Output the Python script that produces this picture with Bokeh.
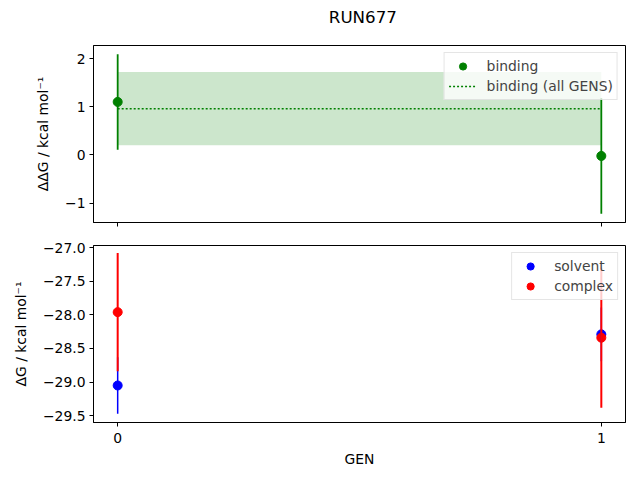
from bokeh.plotting import figure
from bokeh.layouts import column
from bokeh.models import Range1d, FixedTicker, CustomJSTickFormatter, Legend, LegendItem
from bokeh.core.properties import value
from bokeh.embed import file_html
from bokeh.resources import INLINE

# ---- data ----
title_text = "RUN677"
gens = [0, 1]
binding = [1.10, -0.02]
binding_err = [0.99, 1.20]
binding_all_mean = 0.96
binding_all_err = 0.76
solvent = [-29.05, -28.29]
solvent_err = [0.42, 0.40]
complex_ = [-27.96, -28.34]
complex_err = [0.88, 1.04]
x_ticks = [0, 1]
top_y_ticks = [-1, 0, 1, 2]
bottom_y_ticks = [-29.5, -29.0, -28.5, -28.0, -27.5, -27.0]

FONT = "DejaVu Sans"
TICK_PX = "13.9px"

def lo(v, e):
    return [a - b for a, b in zip(v, e)]

def hi(v, e):
    return [a + b for a, b in zip(v, e)]

def style(p, yticks, decimals):
    p.xgrid.visible = False
    p.ygrid.visible = False
    p.outline_line_color = "black"
    p.outline_line_width = 1
    p.background_fill_color = "white"
    p.border_fill_color = "white"
    for ax in (p.xaxis[0], p.yaxis[0]):
        ax.major_tick_in = 0
        ax.major_tick_out = 4
        ax.minor_tick_in = 0
        ax.minor_tick_out = 0
        ax.axis_line_color = "black"
        ax.major_tick_line_color = "black"
        ax.major_label_text_font = FONT
        ax.major_label_text_font_size = TICK_PX
        ax.major_label_text_color = "black"
        ax.axis_label_text_font = FONT
        ax.axis_label_text_font_size = TICK_PX
        ax.axis_label_text_font_style = "normal"
        ax.axis_label_text_color = "black"
        ax.major_label_standoff = 4
    p.yaxis[0].axis_label_standoff = 11
    p.xaxis[0].major_label_standoff = 6
    p.xaxis[0].ticker = FixedTicker(ticks=x_ticks)
    p.yaxis[0].ticker = FixedTicker(ticks=yticks)
    p.yaxis[0].formatter = CustomJSTickFormatter(code="""
        const s = Math.abs(tick).toFixed(%d);
        return (tick < 0 ? "\\u2212" : "") + s;
    """ % decimals)

def legend_style(lg):
    lg.location = "top_right"
    lg.margin = 7
    lg.padding = 4
    lg.spacing = 2
    lg.label_height = 18
    lg.glyph_height = 18
    lg.glyph_width = 28
    lg.label_standoff = 10
    lg.label_text_font = FONT
    lg.label_text_font_size = TICK_PX
    lg.border_line_color = "#cccccc"
    lg.border_line_width = 1
    lg.background_fill_alpha = 0.8

# ---- title strip ----
p0 = figure(width=632, height=45, output_backend="svg", toolbar_location=None,
            x_range=Range1d(0, 632), y_range=Range1d(45, 0),
            min_border=0, x_axis_type=None, y_axis_type=None)
p0.xgrid.visible = False
p0.ygrid.visible = False
p0.outline_line_color = None
p0.text(x=[320], y=[16.5], text=[title_text], text_font=value(FONT),
        text_font_size="16.7px", text_align="center", text_baseline="middle",
        text_color="black")

# ---- top figure ----
p1 = figure(width=632, height=193, output_backend="svg", toolbar_location=None,
            x_range=Range1d(-0.05, 1.05), y_range=Range1d(-1.40, 2.27),
            min_border_left=93, min_border_right=7, min_border_top=0, min_border_bottom=16)
style(p1, top_y_ticks, 0)
p1.xaxis[0].formatter = CustomJSTickFormatter(code="return '';")
p1.yaxis[0].axis_label = "ΔΔG / kcal mol⁻¹"

p1.varea(x=gens, y1=[binding_all_mean - binding_all_err] * 2,
         y2=[binding_all_mean + binding_all_err] * 2, fill_color="green", fill_alpha=0.2)
r_pt = p1.scatter(gens, binding, size=9, color="green")
p1.segment(x0=gens, y0=lo(binding, binding_err), x1=gens, y1=hi(binding, binding_err),
           line_color="green", line_width=1.8)
r_all = p1.line(gens, [binding_all_mean] * 2, line_color="green", line_width=1.5, line_dash="2 2")
lg1 = Legend(items=[LegendItem(label="binding", renderers=[r_pt]),
                    LegendItem(label="binding (all GENS)", renderers=[r_all])])
legend_style(lg1)
p1.add_layout(lg1, "center")

# ---- bottom figure ----
p2 = figure(width=632, height=234, output_backend="svg", toolbar_location=None,
            x_range=Range1d(-0.05, 1.05), y_range=Range1d(-29.60, -26.97),
            min_border_left=93, min_border_right=7, min_border_top=7, min_border_bottom=50)
style(p2, bottom_y_ticks, 1)
p2.xaxis[0].formatter = CustomJSTickFormatter(code="return tick.toFixed(0);")
p2.xaxis[0].axis_label = "GEN"
p2.yaxis[0].axis_label = "ΔG / kcal mol⁻¹"

r_s = p2.scatter(gens, solvent, size=9, color="blue")
r_c = p2.scatter(gens, complex_, size=9, color="red")
p2.segment(x0=gens, y0=lo(solvent, solvent_err), x1=gens, y1=hi(solvent, solvent_err),
           line_color="blue", line_width=1.5)
p2.segment(x0=gens, y0=lo(complex_, complex_err), x1=gens, y1=hi(complex_, complex_err),
           line_color="red", line_width=2)
lg2 = Legend(items=[LegendItem(label="solvent", renderers=[r_s]),
                    LegendItem(label="complex", renderers=[r_c])])
legend_style(lg2)
p2.add_layout(lg2, "center")

layout = column(p0, p1, p2, spacing=0)
open("out.html", "w").write(file_html(layout, INLINE))
